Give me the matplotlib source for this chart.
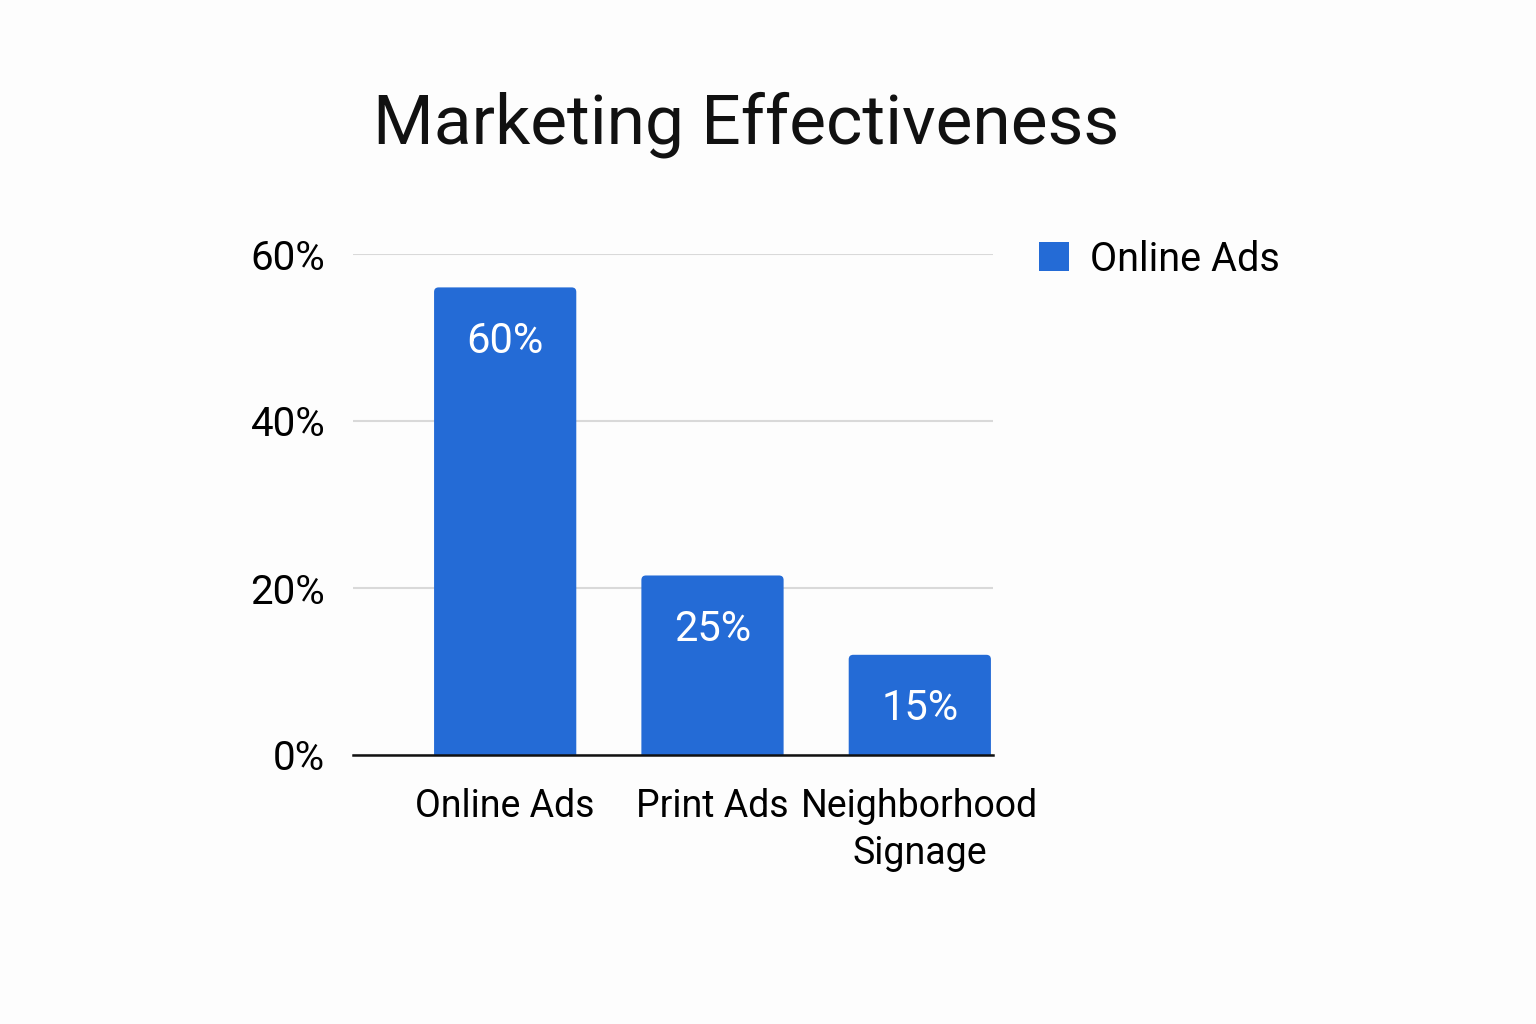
import matplotlib
matplotlib.use("Agg")
import matplotlib.pyplot as plt
from matplotlib.patches import FancyBboxPatch

# data
categories = ["Online Ads", "Print Ads", "Neighborhood\nSignage"]
bar_heights = [56, 21.5, 12]          # drawn heights, as they sit on the axis
bar_labels = ["60%", "25%", "15%"]    # printed labels on the bars
y_ticks = [0, 20, 40, 60]
series_name = "Online Ads"

BLUE = "#246bd6"

plt.rcParams['font.family'] = ['Roboto', 'DejaVu Sans']

fig = plt.figure(figsize=(15.36, 10.24), dpi=100)
fig.patch.set_facecolor("#fdfdfd")
ax = fig.add_axes([353 / 1536, 1 - 755 / 1024, 640 / 1536, 501 / 1024])
ax.set_facecolor("#fdfdfd")

ax.set_xlim(-0.734, 2.353)
ax.set_ylim(0, 60)

x = range(len(categories))
bars = ax.bar(x, bar_heights, width=0.686, color=BLUE, zorder=3)

# swap the plain rectangles for ones with slightly rounded top corners
x_px = 640 / (2.353 + 0.734)
y_px = 501 / 60
for i, rect in enumerate(bars):
    rect.set_visible(False)
    rb = FancyBboxPatch((rect.get_x(), -2), rect.get_width(), rect.get_height() + 2,
                        boxstyle="round,pad=0,rounding_size=0.022",
                        mutation_aspect=x_px / y_px,
                        facecolor=BLUE, edgecolor="none", zorder=3,
                        label=series_name if i == 0 else None)
    ax.add_patch(rb)

for rect, txt in zip(bars, bar_labels):
    ax.annotate(txt, (rect.get_x() + rect.get_width() / 2, rect.get_height()),
                xytext=(0, -39), textcoords="offset points",
                ha="center", va="center", color="white", fontsize=30)

ax.set_yticks(y_ticks)
ax.set_yticklabels([f"{v}%" for v in y_ticks])
ax.set_xticks(list(x))
ax.set_xticklabels(categories, fontsize=27, linespacing=1.35)

ax.tick_params(axis="y", length=0, pad=20, labelsize=29)
ax.tick_params(axis="x", length=0, pad=24)
ax.grid(axis="y", color="#d9d9d9", linewidth=1.5, zorder=0)

for side in ["top", "right", "left"]:
    ax.spines[side].set_visible(False)
ax.spines["bottom"].set_linewidth(1.8)
ax.spines["bottom"].set_color("#111111")
ax.spines["bottom"].set_zorder(4)

ax.legend(loc="upper left", bbox_to_anchor=(1003 / 1536, 1 - 204 / 1024),
          bbox_transform=fig.transFigure, frameon=False, fontsize=28.5,
          handlelength=0.76, handleheight=0.76, handletextpad=0.55)

fig.text(746 / 1536, 1 - 125 / 1024, "Marketing Effectiveness",
         ha="center", va="center", fontsize=50, color="#111111")

fig.savefig("out.png", dpi=100, facecolor=fig.get_facecolor())
